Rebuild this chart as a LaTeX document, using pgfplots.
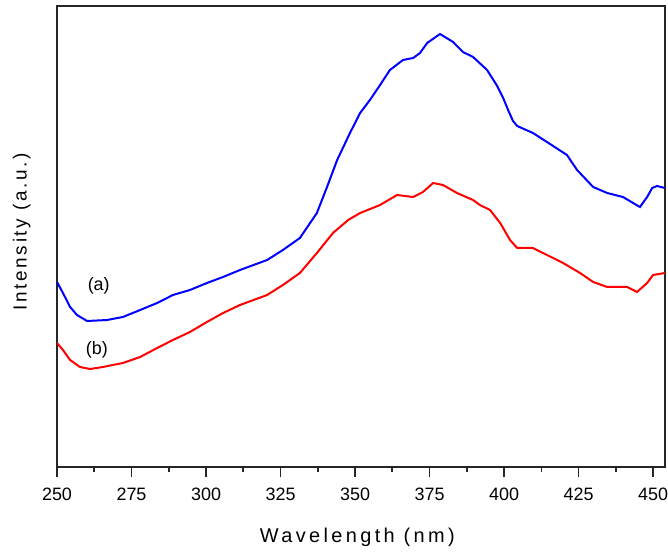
\documentclass[border=0pt]{standalone}
\usepackage{fontspec}
\setmainfont{Liberation Sans}
\usepackage{pgfplots}
\pgfplotsset{compat=1.18}

% Excitation spectra of samples (a) and (b), intensity in arbitrary units
\begin{document}
\begin{tikzpicture}
\begin{axis}[
  scale only axis,
  width=608bp, height=461bp,
  xmin=250, xmax=454, ymin=0, ymax=461,
  axis line style={line width=2bp, draw=black!85},
  xtick={250,275,...,450},
  minor x tick num=1,
  ytick=\empty,
  xtick pos=bottom,
  tick align=outside,
  major tick length=10bp, minor tick length=5bp,
  tick style={line width=1.6bp, black!85},
  /pgf/number format/assume math mode=true,
  x tick label style={/pgf/number format/1000 sep={}, font=\fontsize{18}{18}\selectfont, yshift=-7bp},
  xlabel={Wavelength (nm)},
  ylabel={Intensity (a.u.)},
  xlabel style={at={(axis description cs:0.494,-0.152)}, anchor=center,
    font=\fontsize{20}{22}\selectfont\addfontfeature{LetterSpace=17}},
  ylabel style={at={(axis description cs:-0.058,0.51)}, anchor=center,
    font=\fontsize{19}{20}\selectfont\addfontfeature{LetterSpace=14}},
  clip=true,
]
\coordinate (bl) at (rel axis cs:0,0);
\coordinate (tr) at (rel axis cs:1,1);

% (a)
\addplot[blue, line width=2bp] coordinates {
(250.0,185) (252.0,174) (254.4,160) (256.7,152) (260.1,146) (266.8,147)
(272.1,150) (277.9,157) (283.6,164) (288.9,172) (294.6,177) (300.3,184)
(305.7,190) (311.4,197) (320.5,207) (325.8,217) (331.5,229) (337.2,254)
(340.6,280) (344.0,307) (348.3,334) (351.7,354) (355.0,367) (358.4,382)
(361.7,397) (366.1,407) (369.5,409) (371.8,414) (374.2,424) (378.5,433)
(382.9,425) (386.2,415) (389.6,410) (394.3,397) (397.7,381) (399.7,369)
(401.5,356) (403.0,346) (404.4,341) (409.7,334) (414.4,325) (421.1,312)
(424.5,297) (429.9,280) (434.6,274) (439.9,270) (443.3,264) (445.6,260)
(448.0,270) (449.7,279) (451.3,281) (454.0,279)
};

% (b)
\addplot[red, line width=2bp] coordinates {
(250.0,124) (252.0,117) (254.4,107) (257.7,100) (261.1,98) (265.4,100)
(272.1,104) (277.9,110) (283.6,119) (288.9,127) (294.6,135) (300.3,145)
(305.7,154) (311.4,162) (320.5,172) (325.8,182) (331.5,194) (337.2,214)
(342.6,234) (347.7,247) (351.7,254) (358.4,262) (364.1,272) (369.5,270)
(372.8,275) (376.2,284) (379.5,282) (384.2,274) (389.6,267) (391.9,262)
(395.3,257) (398.7,244) (402.0,227) (404.4,219) (409.7,219) (414.4,212)
(419.8,204) (425.5,194) (429.9,185) (434.6,180) (441.3,180) (444.6,175)
(448.0,184) (450.0,192) (454.0,194)
};

\node[font=\fontsize{18}{18}\selectfont] at (axis cs:264.0,181) {(a)};
\node[font=\fontsize{18}{18}\selectfont] at (axis cs:263.4,117) {(b)};
\end{axis}
\pgfresetboundingbox
\path[use as bounding box] ([xshift=-57bp,yshift=-87bp]bl) rectangle ([xshift=3bp,yshift=6bp]tr);
\end{tikzpicture}
\end{document}
